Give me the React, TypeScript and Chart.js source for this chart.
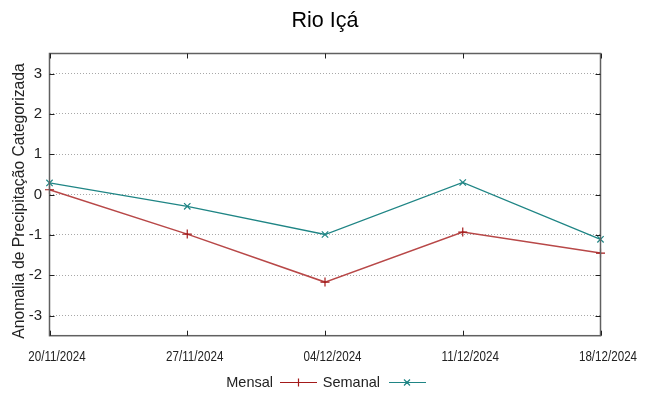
import React, { useEffect, useRef } from "react";
import { Chart, registerables } from "chart.js";

Chart.register(...registerables);

const titleText = "Rio Içá";
const yTitle = "Anomalia de Precipitação Categorizada";
const dates = ["20/11/2024", "27/11/2024", "04/12/2024", "11/12/2024", "18/12/2024"];
const mensal = [0.12, -0.98, -2.17, -0.93, -1.45];
const semanal = [0.29, -0.29, -0.99, 0.3, -1.11];
const yTicks = [-3, -2, -1, 0, 1, 2, 3];

const RED = "#a31a1a";
const RED_LINE = "#b84848";
const TEAL = "#1f8585";
const FONT = "'Liberation Sans', Arial, sans-serif";

const decor = {
  id: "decor",
  afterDraw(chart: any) {
    const ctx = chart.ctx;
    const { left, right, top, bottom } = chart.chartArea;
    const ys = chart.scales.y;
    const xs = chart.scales.x;
    ctx.save();
    // box
    ctx.strokeStyle = "#606060";
    ctx.lineWidth = 1.5;
    ctx.strokeRect(left, top, right - left, bottom - top);
    // inward ticks
    ctx.lineWidth = 1;
    ctx.strokeStyle = "#202020";
    ctx.beginPath();
    yTicks.forEach((v) => {
      const py = Math.round(ys.getPixelForValue(v)) + 0.5;
      ctx.moveTo(left, py);
      ctx.lineTo(left + 5, py);
      ctx.moveTo(right, py);
      ctx.lineTo(right - 5, py);
    });
    dates.forEach((_, i) => {
      const px = Math.round(xs.getPixelForValue(i)) + 0.5;
      ctx.moveTo(px, bottom);
      ctx.lineTo(px, bottom - 5);
      ctx.moveTo(px, top);
      ctx.lineTo(px, top + 5);
    });
    ctx.stroke();
    // x tick labels (condensed)
    ctx.fillStyle = "#222";
    ctx.font = `14px ${FONT}`;
    ctx.textAlign = "center";
    ctx.textBaseline = "middle";
    dates.forEach((d, i) => {
      const px = xs.getPixelForValue(i) + 7.5;
      ctx.save();
      ctx.translate(px, bottom + 21);
      ctx.scale(0.83, 1);
      ctx.fillText(d, 0, 0);
      ctx.restore();
    });
    // title
    ctx.fillStyle = "#000";
    ctx.font = `21.5px ${FONT}`;
    ctx.textAlign = "center";
    ctx.textBaseline = "alphabetic";
    ctx.fillText(titleText, 325, 26.5);
    // y title
    ctx.save();
    ctx.translate(24, 201);
    ctx.rotate(-Math.PI / 2);
    ctx.font = `15.7px ${FONT}`;
    ctx.fillStyle = "#222";
    ctx.textAlign = "center";
    ctx.textBaseline = "alphabetic";
    ctx.fillText(yTitle, 0, 0);
    ctx.restore();
    // legend
    const ly = 382.5;
    ctx.font = `14.5px ${FONT}`;
    ctx.fillStyle = "#222";
    ctx.textBaseline = "middle";
    ctx.textAlign = "right";
    ctx.fillText("Mensal", 273, ly + 0.5);
    ctx.fillText("Semanal", 380, ly + 0.5);
    ctx.lineWidth = 1.2;
    ctx.strokeStyle = RED;
    ctx.beginPath();
    ctx.moveTo(280, ly);
    ctx.lineTo(317, ly);
    ctx.moveTo(298.5, ly - 4);
    ctx.lineTo(298.5, ly + 4);
    ctx.stroke();
    ctx.strokeStyle = TEAL;
    ctx.beginPath();
    ctx.moveTo(389, ly);
    ctx.lineTo(426, ly);
    ctx.moveTo(404, ly - 3);
    ctx.lineTo(410, ly + 3);
    ctx.moveTo(404, ly + 3);
    ctx.lineTo(410, ly - 3);
    ctx.stroke();
    ctx.restore();
  },
};

export default function App() {
  const ref = useRef<HTMLCanvasElement | null>(null);
  useEffect(() => {
    document.body.style.margin = "0";
    const chart = new Chart(ref.current as HTMLCanvasElement, {
      type: "line",
      data: {
        labels: dates,
        datasets: [
          {
            label: "Mensal",
            data: mensal,
            borderColor: RED_LINE,
            backgroundColor: RED,
            pointBorderColor: RED,
            borderWidth: 1.5,
            pointStyle: "cross",
            pointRadius: 4.5,
            pointBorderWidth: 1.2,
            tension: 0,
          },
          {
            label: "Semanal",
            data: semanal,
            borderColor: TEAL,
            backgroundColor: TEAL,
            borderWidth: 1.3,
            pointStyle: "crossRot",
            pointRadius: 4.5,
            pointBorderWidth: 1.2,
            tension: 0,
          },
        ],
      },
      options: {
        animation: false,
        responsive: false,
        events: [],
        layout: { padding: { top: 53.5, right: 47.5, left: 0, bottom: 0 } },
        plugins: { legend: { display: false }, title: { display: false }, tooltip: { enabled: false } },
        scales: {
          x: {
            type: "category",
            offset: false,
            grid: { display: false, drawTicks: false },
            border: { display: false },
            ticks: { display: false, autoSkip: false },
            afterFit: (s: any) => {
              s.height = 60.3;
            },
          },
          y: {
            min: -3.5,
            max: 3.5,
            afterBuildTicks: (s: any) => {
              s.ticks = yTicks.map((v) => ({ value: v }));
            },
            grid: { display: true, drawTicks: false, color: "#a8a8a8", lineWidth: 1 },
            border: { display: false, dash: [1, 2] },
            ticks: {
              padding: 7.5,
              color: "#222",
              font: { family: FONT, size: 15 },
            },
            afterFit: (s: any) => {
              s.width = 49.5;
            },
          },
        },
      },
      plugins: [decor],
    });
    return () => chart.destroy();
  }, []);
  return <canvas ref={ref} width={648} height={396} style={{ display: "block" }} />;
}
